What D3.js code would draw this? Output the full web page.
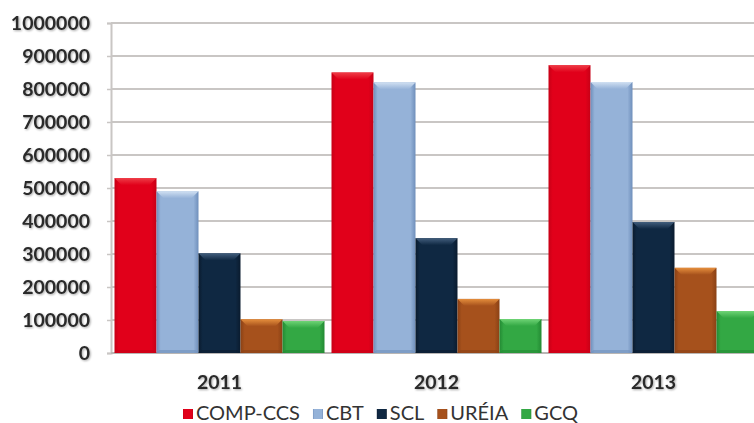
<!DOCTYPE html>
<html><head><meta charset="utf-8">
<script src="https://cdn.jsdelivr.net/npm/d3@7"></script>
<style>
html,body{margin:0;padding:0;background:#fff;overflow:hidden}
svg{display:block}
text{font-family:Lato,"Open Sans",sans-serif}
</style></head><body>
<svg id="c" width="754" height="423"></svg>
<script>
const years = ["2011","2012","2013"];
const seriesNames = ["COMP-CCS","CBT","SCL","URÉIA","GCQ"];
const compCcs = [530000, 850000, 872000];
const cbt = [490000, 820000, 821000];
const scl = [302000, 348000, 397000];
const ureia = [102000, 164000, 258000];
const gcq = [97000, 103000, 127000];
const yTicks = [0,100000,200000,300000,400000,500000,600000,700000,800000,900000,1000000];
const colors = {
  "COMP-CCS":{main:"#e1001a",edge:"#c70016",top:"#ef4049"},
  "CBT":{main:"#95b2d8",edge:"#6f8fbb",top:"#d3e2f3"},
  "SCL":{main:"#0f2842",edge:"#0a1b2e",top:"#456180"},
  "URÉIA":{main:"#a6511c",edge:"#8a4115",top:"#e8913e"},
  "GCQ":{main:"#33a844",edge:"#238a33",top:"#72d678"}
};
const values = [compCcs, cbt, scl, ureia, gcq];

const svg = d3.select("#c");
const pLeft = 111, pRight = 762, pTop = 23, pBottom = 353;
const x0 = d3.scaleBand().domain(years).range([pLeft, pRight]).padding(0);
const x1 = d3.scaleBand().domain(seriesNames).range([3.5, x0.bandwidth()-3.5]).padding(0);
const y = d3.scaleLinear().domain([0,1000000]).range([pBottom, pTop]);

const defs = svg.append("defs");
seriesNames.forEach((s,i)=>{
  const c = colors[s];
  const g = defs.append("linearGradient").attr("id","g"+i).attr("x1","0").attr("x2","1").attr("y1","0").attr("y2","0");
  g.append("stop").attr("offset","0").attr("stop-color",c.edge);
  g.append("stop").attr("offset","0.1").attr("stop-color",c.main);
  g.append("stop").attr("offset","0.88").attr("stop-color",c.main);
  g.append("stop").attr("offset","1").attr("stop-color",c.edge);
  const t = defs.append("linearGradient").attr("id","t"+i).attr("x1","0").attr("x2","0").attr("y1","0").attr("y2","1");
  t.append("stop").attr("offset","0").attr("stop-color",c.top);
  t.append("stop").attr("offset","1").attr("stop-color",c.main);
});
const sh = defs.append("filter").attr("id","ts").attr("x","-10%").attr("y","-20%").attr("width","130%").attr("height","150%");
sh.append("feGaussianBlur").attr("in","SourceAlpha").attr("stdDeviation","1.2").attr("result","b");
sh.append("feOffset").attr("in","b").attr("dx","1").attr("dy","1").attr("result","o");
sh.append("feComponentTransfer").attr("in","o").attr("result","o2").append("feFuncA").attr("type","linear").attr("slope","0.35");
const m = sh.append("feMerge"); m.append("feMergeNode").attr("in","o2"); m.append("feMergeNode").attr("in","SourceGraphic");

// gridlines
svg.append("g").selectAll("line").data(yTicks.slice(1)).join("line")
  .attr("x1",pLeft).attr("x2",pRight).attr("y1",d=>y(d)).attr("y2",d=>y(d))
  .attr("stroke","#c9c6c4").attr("stroke-width",2);

// y axis
const ya = svg.append("g").attr("transform",`translate(${pLeft},0)`)
  .call(d3.axisLeft(y).tickValues(yTicks).tickSize(4).tickPadding(17).tickFormat(d3.format("d")));
ya.select(".domain").attr("stroke","#c9c6c4").attr("stroke-width",2);
ya.selectAll(".tick line").attr("stroke","#c9c6c4").attr("stroke-width",1.5);
ya.selectAll(".tick text").attr("font-size",19.5).attr("font-weight","bold").attr("fill","#2a2a2a")
  .attr("font-family","Lato,sans-serif").attr("filter","url(#ts)").attr("dy","0.35em");

// baseline
svg.append("line").attr("x1",pLeft).attr("x2",pRight).attr("y1",pBottom).attr("y2",pBottom)
  .attr("stroke","#b9b6b4").attr("stroke-width",2);

// bars
const groups = svg.append("g").selectAll("g").data(years).join("g")
  .attr("transform",d=>`translate(${x0(d)},0)`);
groups.each(function(yr, yi){
  const g = d3.select(this);
  seriesNames.forEach((s,si)=>{
    const v = values[si][yi];
    const bx = x1(s), bw = x1.bandwidth(), by = y(v), bh = pBottom - by;
    g.append("rect").attr("x",bx).attr("y",by).attr("width",bw).attr("height",bh).attr("fill",`url(#g${si})`);
    const bev = 7;
    g.append("path").attr("d",`M${bx},${by}L${bx+bw},${by}L${bx+bw-bev},${by+bev}L${bx+bev},${by+bev}Z`)
      .attr("fill",`url(#t${si})`).attr("opacity",0.95);
    g.append("path").attr("d",`M${bx},${pBottom}L${bx+bw},${pBottom}L${bx+bw-3},${pBottom-3}L${bx+3},${pBottom-3}Z`)
      .attr("fill",colors[s].edge).attr("opacity",0.6);
  });
});

// x labels
svg.append("g").selectAll("text").data(years).join("text")
  .attr("x",d=>x0(d)+x0.bandwidth()/2).attr("y",389)
  .attr("text-anchor","middle").attr("font-size",19.5).attr("font-weight","bold").attr("fill","#2a2a2a")
  .attr("filter","url(#ts)").text(d=>d);

// legend
const lg = svg.append("g");
const its = [];
let sumW = 0;
seriesNames.forEach((s,i)=>{
  const it = lg.append("g");
  it.append("rect").attr("x",0).attr("y",-11).attr("width",10).attr("height",10).attr("fill",`url(#g${i})`);
  it.append("rect").attr("x",2).attr("y",-9).attr("width",6).attr("height",6).attr("fill",colors[s].main).attr("opacity",0.6);
  const t = it.append("text").attr("x",13).attr("y",0).attr("font-size",20).attr("fill","#333").text(s);
  const w = 13 + t.node().getComputedTextLength();
  its.push({it,w}); sumW += w;
});
const totalTarget = 395;
const gap = Math.max(5, (totalTarget - sumW) / 4);
let cx = 0;
its.forEach(o=>{ o.it.attr("transform",`translate(${cx},0)`); cx += o.w + gap; });
const total = cx - gap;
lg.attr("transform",`translate(${380.5 - total/2},420)`);
</script>
</body></html>
